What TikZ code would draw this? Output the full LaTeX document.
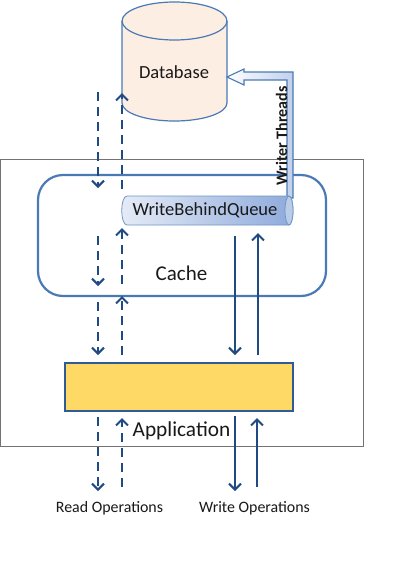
\documentclass[tikz,border=0pt]{standalone}
\usepackage{fontspec}
\setmainfont{Carlito}
\usetikzlibrary{arrows.meta}
\definecolor{navy}{HTML}{1F4A82}
\definecolor{edgeblue}{HTML}{4A7AB5}
\definecolor{cylfill}{HTML}{FDEEE3}
\definecolor{appfill}{HTML}{FFD966}
\definecolor{appedge}{HTML}{2F5C94}
\definecolor{queuedark}{HTML}{8EAADB}
\definecolor{queuelight}{HTML}{E6ECF7}
\tikzset{
  flowsolid/.style={draw=navy,line width=2.5pt,-{Straight Barb[length=6pt,width=12pt,line width=2.1pt]}},
  flowdash/.style={flowsolid,dash pattern=on 9pt off 6pt},
  lbl/.style={inner sep=0pt,text=black!90},
}
\begin{document}
\begin{tikzpicture}[x=1pt,y=-1pt]
\useasboundingbox (0,0) rectangle (419,568);
\fill[white] (0,0) rectangle (419,568);
% outer frame
\draw[draw=black!55,line width=0.8pt] (0.5,159) rectangle (363,446);
% database
\path[fill=cylfill,draw=edgeblue,line width=1.2pt] (122,21) -- (122,103) arc[start angle=180,end angle=0,x radius=52.5,y radius=18] -- (227,21) arc[start angle=0,end angle=-180,x radius=52.5,y radius=19] -- cycle;
\draw[edgeblue,line width=1.2pt] (122,21) arc[start angle=180,end angle=0,x radius=52.5,y radius=19];
\node[lbl,font=\fontsize{18.5pt}{20pt}\selectfont] (db) at (174,72) {Database};
% cache
\draw[draw=edgeblue,line width=2.2pt,rounded corners=25pt] (38,175) rectangle (326,296);
\node[lbl,font=\fontsize{21pt}{23pt}\selectfont] (cache) at (181.5,273) {Cache};
% block arrow
\path[left color=white,right color=queuedark!55,draw=edgeblue,line width=1.1pt] (287,198) -- (287,80) -- (244,80) -- (244,85) -- (227,77) -- (244,69) -- (244,72) -- (293,72) -- (293,198) -- cycle;
% queue
\path[left color=queuelight,right color=queuedark,draw=edgeblue!80,line width=0.8pt] (127,196) -- (289,196) arc[start angle=-90,end angle=90,x radius=4,y radius=14.5] -- (127,225) .. controls (120,225) and (120,196) .. (127,196) -- cycle;
\draw[edgeblue!80,line width=0.8pt,fill=queuedark!60] (289,210.5) ellipse[x radius=4,y radius=14.5];
\node[lbl,font=\fontsize{18.5pt}{20pt}\selectfont] (queue) at (205,210.5) {WriteBehindQueue};
\node[lbl,rotate=90,font=\bfseries\fontsize{16pt}{18pt}\selectfont] (wt) at (281.5,136) {Writer Threads};
% application
\node[draw=appedge,fill=appfill,line width=2.2pt,minimum width=228pt,minimum height=48pt,inner sep=0pt] (app) at (179,387) {};
\node[lbl,font=\fontsize{21.3pt}{23pt}\selectfont] (applbl) at (181.5,431) {Application};
\node[lbl,font=\fontsize{15.9pt}{18pt}\selectfont] (read) at (109.5,508) {Read Operations};
\node[lbl,font=\fontsize{15.9pt}{18pt}\selectfont] (write) at (254.5,508) {Write Operations};
% arrow ends
\foreach \n/\x/\y in {a1/98/92,a2/98/188,a3/98/236,a4/98/286,a5/98/302,a6/98/355,a7/98/417,a8/98/491,
  b1/122/189,b2/122/93,b3/122/284,b4/122/228,b5/122/355,b6/122/296,b7/122/487,b8/122/418,
  c1/235/236,c2/235/355,c3/235/416,c4/235/491,
  d1/258/355,d2/258/233,d3/257/487,d4/257/418}{\coordinate (\n) at (\x,\y);}
\draw[flowdash] (a1) -- (a2);
\draw[flowdash] (a3) -- (a4);
\draw[flowdash] (a5) -- (a6);
\draw[flowdash] (a7) -- (a8);
\draw[flowdash] (b1) -- (b2);
\draw[flowdash] (b3) -- (b4);
\draw[flowdash] (b5) -- (b6);
\draw[flowdash] (b7) -- (b8);
\draw[flowsolid] (c1) -- (c2);
\draw[flowsolid] (c3) -- (c4);
\draw[flowsolid] (d1) -- (d2);
\draw[flowsolid] (d3) -- (d4);
\end{tikzpicture}
\end{document}
